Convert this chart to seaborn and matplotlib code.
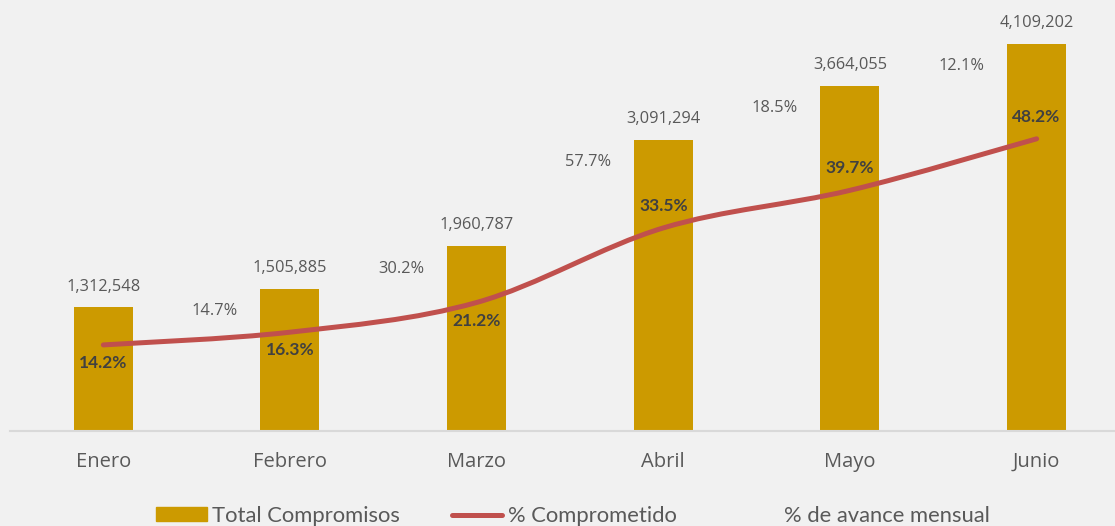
import matplotlib
matplotlib.use("Agg")
import matplotlib.pyplot as plt
import seaborn as sns
import pandas as pd
from matplotlib.path import Path
from matplotlib.patches import PathPatch, Patch
from matplotlib.lines import Line2D

months = ["Enero", "Febrero", "Marzo", "Abril", "Mayo", "Junio"]
total_compromisos = [1312548, 1505885, 1960787, 3091294, 3664055, 4109202]
pct_comprometido = [14.2, 16.3, 21.2, 33.5, 39.7, 48.2]
pct_avance = [None, 14.7, 30.2, 57.7, 18.5, 12.1]

GOLD = "#cc9a00"
RED = "#c0504d"
BG = "#f1f1f1"
TXT = "#595959"
DARK = "#404040"

sns.set_style("white")
plt.rcParams["font.family"] = ["Open Sans", "DejaVu Sans"]

fig = plt.figure(figsize=(11.15, 5.26), dpi=100, facecolor=BG)
ax = fig.add_axes([10 / 1115, 95 / 526, 1105 / 1115, 431 / 526])
ax.set_facecolor(BG)

df = pd.DataFrame({"mes": months, "total": total_compromisos})
sns.barplot(data=df, x="mes", y="total", color=GOLD, width=0.316,
            saturation=1, linewidth=0, ax=ax)

ax.set_xlim(-0.5, 5.42)
ax.set_ylim(0, 4.576e6)
ax.set_xlabel("")
ax.set_ylabel("")
ax.set_yticks([])
for s in ["top", "right", "left"]:
    ax.spines[s].set_visible(False)
ax.spines["bottom"].set_color("#d9d9d9")
ax.spines["bottom"].set_linewidth(1.5)
ax.tick_params(axis="x", length=0, pad=15, labelsize=14.5, labelcolor=TXT)

# value labels above bars
for i, v in enumerate(total_compromisos):
    ax.annotate(f"{v:,}", (i, v), xytext=(0, 15), textcoords="offset points",
                ha="center", va="center", fontsize=11.8, color=TXT)

# monthly advance labels, to the left of each bar
for i, p in enumerate(pct_avance):
    if p is None:
        continue
    ax.annotate(f"{p}%", (i, total_compromisos[i]), xytext=(-54, -16),
                textcoords="offset points", ha="center", va="center",
                fontsize=11.8, color=TXT)

# smoothed line on secondary axis
ax2 = ax.twinx()
ax2.set_ylim(0, 71.1)
ax2.axis("off")
xs = list(range(len(months)))
pts = list(zip(xs, pct_comprometido))
verts = [pts[0]]
codes = [Path.MOVETO]
n = len(pts)
for i in range(n - 1):
    p0 = pts[max(i - 1, 0)]
    p1 = pts[i]
    p2 = pts[i + 1]
    p3 = pts[min(i + 2, n - 1)]
    c1 = (p1[0] + (p2[0] - p0[0]) / 6, p1[1] + (p2[1] - p0[1]) / 6)
    c2 = (p2[0] - (p3[0] - p1[0]) / 6, p2[1] - (p3[1] - p1[1]) / 6)
    verts += [c1, c2, p2]
    codes += [Path.CURVE4] * 3
ax2.add_patch(PathPatch(Path(verts, codes), facecolor="none", edgecolor=RED,
                        lw=3.6, capstyle="round", joinstyle="round"))

for i, p in enumerate(pct_comprometido):
    dy = -13 if i < 3 else 16
    ax2.annotate(f"{p}%", (i, p), xytext=(0, dy), textcoords="offset points",
                 ha="center", va="center", fontsize=12.5, fontweight="bold",
                 family=["Lato", "DejaVu Sans"], color=DARK)

handles = [Patch(color=GOLD), Line2D([], [], color=RED, lw=3.6),
           Line2D([], [], color="none")]
labels = ["Total Compromisos", "% Comprometido", "% de avance mensual"]
fig.legend(handles, labels, loc="center", bbox_to_anchor=(573 / 1115, 10 / 526),
           ncol=3, frameon=False, labelcolor=TXT,
           handlelength=2.3, handleheight=0.6, handletextpad=0.25,
           columnspacing=2.35, borderpad=0,
           prop={"family": "Lato", "size": 15.8})

fig.savefig("out.png", dpi=100, facecolor=BG)
